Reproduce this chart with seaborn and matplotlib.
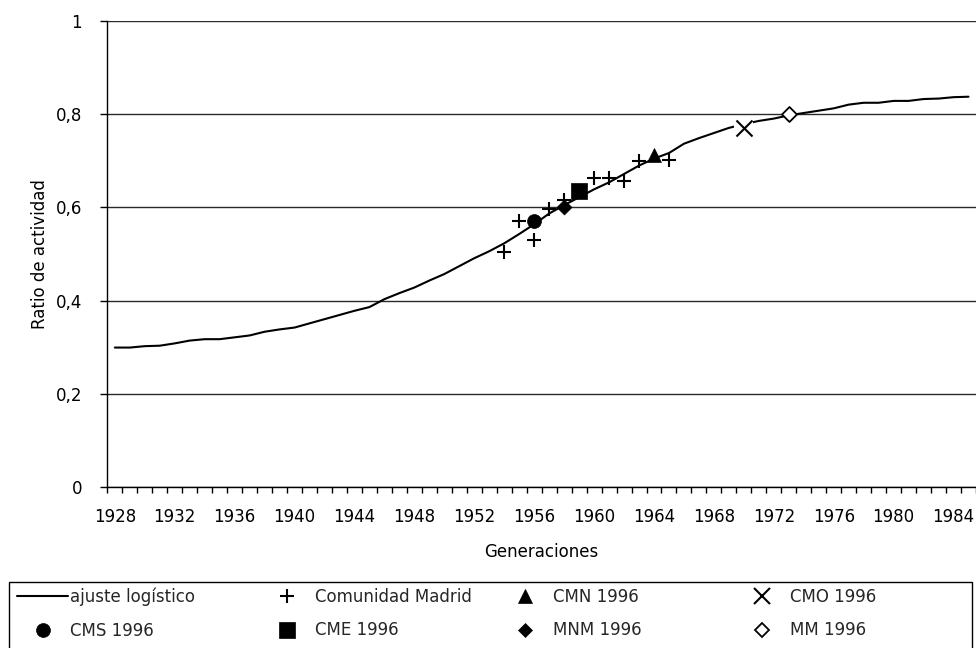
import numpy as np
import pandas as pd
import matplotlib
matplotlib.use("Agg")
import matplotlib.pyplot as plt
import seaborn as sns
from matplotlib.lines import Line2D
from matplotlib.patches import Rectangle

# ---------------- data ----------------
fit_years = list(range(1928, 1986))
fit_values = [0.299, 0.299, 0.302, 0.303, 0.308, 0.314, 0.317, 0.317, 0.321, 0.325,
              0.333, 0.338, 0.342, 0.351, 0.360, 0.369, 0.378, 0.386, 0.403, 0.416,
              0.428, 0.443, 0.457, 0.474, 0.491, 0.506, 0.523, 0.543, 0.564, 0.587,
              0.605, 0.622, 0.639, 0.654, 0.672, 0.690, 0.705, 0.717, 0.737, 0.749,
              0.760, 0.771, 0.779, 0.786, 0.791, 0.798, 0.803, 0.808, 0.813, 0.821,
              0.825, 0.825, 0.829, 0.829, 0.833, 0.834, 0.837, 0.838]
fit_label = "ajuste logístico"

cm_years = [1954, 1955, 1956, 1957, 1958, 1960, 1961, 1962, 1963, 1965]
cm_values = [0.505, 0.572, 0.530, 0.597, 0.616, 0.664, 0.664, 0.657, 0.699, 0.703]
cm_label = "Comunidad Madrid"

survey_labels = ["CMS 1996", "CME 1996", "CMN 1996", "MNM 1996", "CMO 1996", "MM 1996"]
survey_years = [1956, 1959, 1964, 1958, 1970, 1973]
survey_values = [0.571, 0.636, 0.713, 0.601, 0.770, 0.800]

y_ticks = [0, 0.2, 0.4, 0.6, 0.8, 1.0]
y_tick_labels = ["0", "0,2", "0,4", "0,6", "0,8", "1"]
x_tick_years = list(range(1928, 1985, 4))
x_label = "Generaciones"
y_label = "Ratio de actividad"

# ---------------- style ----------------
sns.set_theme(style="white")
plt.rcParams["font.family"] = ["DejaVu Sans"]
FS = 12

# marker style per survey label: (marker, size s, face, edge, lw)
marker_style = {
    "CMS 1996": ("o", 100, "black", "black", 0.5),
    "CME 1996": ("s", 117, "black", "black", 0.5),
    "CMN 1996": ("^", 100, "black", "black", 0.5),
    "MNM 1996": ("D", 58, "black", "black", 0.5),
    "CMO 1996": ("x", 133, "black", "black", 1.5),
    "MM 1996": ("D", 58, "white", "black", 1.3),
}

fig = plt.figure(figsize=(9.76, 6.48), dpi=100)
ax = fig.add_axes([0.110, 0.2489, 0.890, 0.7182])

sns.lineplot(x=fit_years, y=fit_values, color="black", linewidth=1.5, ax=ax, zorder=2)

sns.scatterplot(x=cm_years, y=cm_values, marker="+", s=110, color="black",
                linewidth=1.5, ax=ax, zorder=4)

df_s = pd.DataFrame({"label": survey_labels, "year": survey_years, "value": survey_values})
for _, row in df_s.iterrows():
    m, s, fc, ec, lw = marker_style[row["label"]]
    if m == "x":
        # white background behind the cross, as in the original
        sns.scatterplot(x=[row["year"]], y=[row["value"]], marker="s", s=(19 * 0.72) ** 2,
                        color="white", edgecolor="none", linewidth=0, ax=ax, zorder=3)
        sns.scatterplot(x=[row["year"]], y=[row["value"]], marker=m, s=s,
                        color="black", linewidth=lw, ax=ax, zorder=5)
    else:
        sns.scatterplot(x=[row["year"]], y=[row["value"]], marker=m, s=s,
                        color=fc, edgecolor=ec, linewidth=lw, ax=ax, zorder=5)

# ---------------- axes ----------------
ax.set_xlim(1927.5, 1985.5)
ax.set_ylim(0, 1)
ax.set_yticks(y_ticks)
ax.set_yticklabels(y_tick_labels, fontsize=FS)
ax.set_xticks(x_tick_years)
ax.set_xticklabels([str(y) for y in x_tick_years], fontsize=FS)
ax.set_xticks(np.arange(1927.5, 1986, 1.0), minor=True)

ax.yaxis.grid(True, color="#2a2a2a", linewidth=1.0)
ax.xaxis.grid(False)
ax.set_axisbelow(True)

for side in ["top", "right"]:
    ax.spines[side].set_visible(False)
for side in ["left", "bottom"]:
    ax.spines[side].set_color("black")
    ax.spines[side].set_linewidth(1.0)

ax.tick_params(axis="y", which="major", direction="out", length=5.3, width=1,
               color="black", pad=13, labelcolor="black", left=True)
ax.tick_params(axis="x", which="major", length=0, pad=15.5, labelcolor="black", bottom=True)
ax.tick_params(axis="x", which="minor", direction="out", length=4.5, width=1,
               color="black", bottom=True)

ax.set_xlabel(x_label, fontsize=FS, color="black")
ax.set_ylabel(y_label, fontsize=FS, color="black")
ax.xaxis.set_label_coords(0.5, -0.121)
ax.yaxis.set_label_coords(-0.0675, 0.5)

# ---------------- legend ----------------
W, H = 976.0, 648.0
fig.add_artist(Rectangle((9 / W, -0.01), (972 - 9) / W, (648 - 582) / H + 0.01,
                         transform=fig.transFigure, fill=False, edgecolor="black",
                         linewidth=1.0, zorder=10))

def proxy(label):
    m, s, fc, ec, lw = marker_style[label]
    return Line2D([], [], linestyle="none", marker=m, markersize=np.sqrt(s),
                  markerfacecolor=fc, markeredgecolor=ec, markeredgewidth=lw)

columns = [
    ([Line2D([], [], color="black", linewidth=1.5), proxy("CMS 1996")], [fit_label, "CMS 1996"]),
    ([Line2D([], [], linestyle="none", marker="+", markersize=10.5, markeredgewidth=1.5,
             color="black"), proxy("CME 1996")], [cm_label, "CME 1996"]),
    ([proxy("CMN 1996"), proxy("MNM 1996")], ["CMN 1996", "MNM 1996"]),
    ([proxy("CMO 1996"), proxy("MM 1996")], ["CMO 1996", "MM 1996"]),
]
col_left_px = [17, 261.5, 499.5, 736.5]
y_mid = (648 - 613.5) / H
for (handles, labels), xl in zip(columns, col_left_px):
    fig.legend(handles=handles, labels=labels, loc="center left",
               bbox_to_anchor=(xl / W, y_mid), bbox_transform=fig.transFigure,
               frameon=False, fontsize=FS, handlelength=3.06, handletextpad=0.15,
               labelspacing=0.95, borderpad=0, borderaxespad=0, ncol=1)

fig.savefig("out.png", dpi=100)
